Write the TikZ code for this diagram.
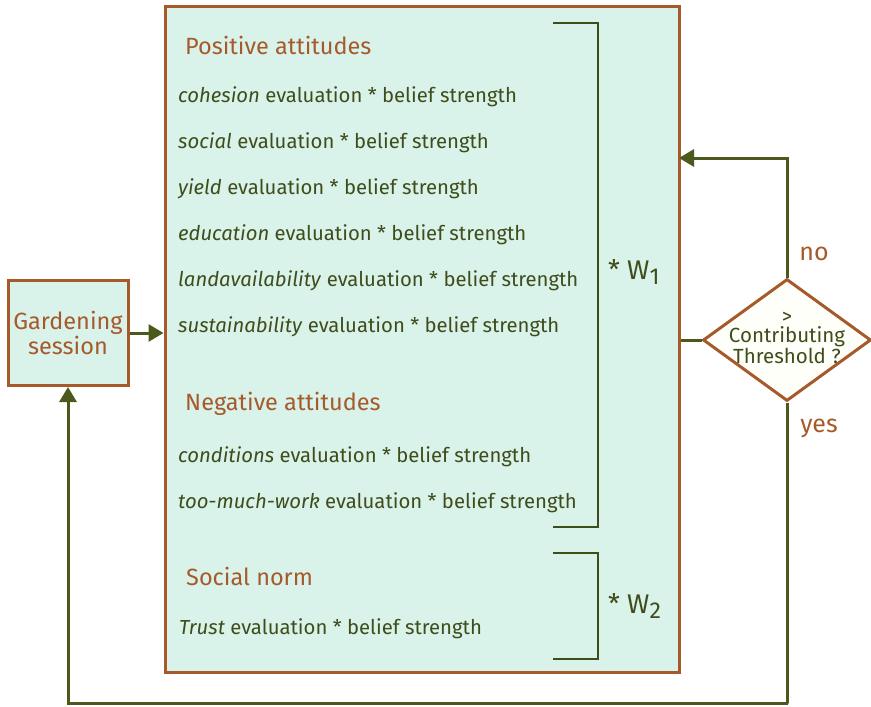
\documentclass[tikz,border=0pt]{standalone}
\usepackage{fontspec}
\setmainfont{Fira Sans}
\usetikzlibrary{arrows.meta,shapes.geometric}
\definecolor{rust}{HTML}{A65A2B}
\definecolor{olive}{HTML}{4B5A1C}
\definecolor{leaf}{HTML}{3F4D1B}
\definecolor{mint}{HTML}{D9F2EA}
\newcommand{\wsub}[1]{W\raisebox{-5pt}{\fontsize{23}{23}\selectfont #1}}
\begin{document}
\begin{tikzpicture}[x=1pt, y=-1pt,
  box/.style={draw=rust, line width=3pt, fill=mint},
  flow/.style={olive, line width=3pt, -{Triangle[length=15pt,width=17pt]}},
  brk/.style={leaf, line width=2.5pt},
  head/.style={anchor=base west, text=rust, inner sep=0pt, font=\fontsize{23.5}{27}\selectfont},
  item/.style={anchor=base west, text=leaf, inner sep=0pt, font=\fontsize{20.3}{24}\selectfont},
  lbl/.style={text=rust, inner sep=0pt, font=\fontsize{25}{28}\selectfont}]
  \useasboundingbox (0,0) rectangle (871,707);
  % main box
  \node[box, minimum width=514pt, minimum height=666pt] (main) at (422,339) {};
  \node[box, minimum width=120pt, minimum height=105pt, align=center, text=rust, font=\fontsize{23.5}{23}\selectfont] (gard) at (68,333) {Gardening\\session};
  % decision
  \node[draw=rust, line width=3pt, fill=white!98!yellow, diamond, minimum width=168pt, minimum height=122pt, inner sep=0pt] (dec) at (787,340) {};
  \node[align=center, text=leaf, inner sep=0pt, font=\fontsize{20.5}{19.5}\selectfont] (dectxt) at (787,338) {>\\Contributing\\Threshold ?};
  % attitudes
  \node[head] (pos) at (185,54) {Positive attitudes};
  \foreach \w/\y [count=\i] in {cohesion/102, social/148, yield/194, education/240, landavailability/286, sustainability/332}
    \node[item] (pos\i) at (178,\y) {\textit{\w} evaluation * belief strength};
  \node[head] (neg) at (185,410) {Negative attitudes};
  \node[item] (neg1) at (178,462) {\textit{conditions} evaluation * belief strength};
  \node[item] (neg2) at (178,508) {\textit{too-much-work} evaluation * belief strength};
  \node[head] (soc) at (186,585) {Social norm};
  \node[item] (soc1) at (179,634) {\textit{Trust} evaluation * belief strength};
  % weights
  \draw[brk] (553,23) -| (598,527) -- (553,527);
  \draw[brk] (553,553) -| (598,659) -- (553,659);
  \node[text=leaf, anchor=west, inner sep=0pt, font=\fontsize{27}{28}\selectfont] (w1) at (608,272) {* \wsub{1}};
  \node[text=leaf, anchor=west, inner sep=0pt, font=\fontsize{27}{28}\selectfont] (w2) at (608,606) {* \wsub{2}};
  % connectors
  \coordinate (noin) at (679,158);
  \coordinate (yesout) at (788,703);
  \draw[flow] (gard.east) -- (gard.east -| main.west);
  \draw[olive, line width=3pt] (dec.west) -- (dec.west -| main.east);
  \draw[flow] (dec.north) |- (noin);
  \draw[flow] (dec.south) |- (yesout) -| (gard.south);
  \node[lbl] (no) at (814,254) {no};
  \node[lbl] (yes) at (819,428) {yes};
\end{tikzpicture}
\end{document}
